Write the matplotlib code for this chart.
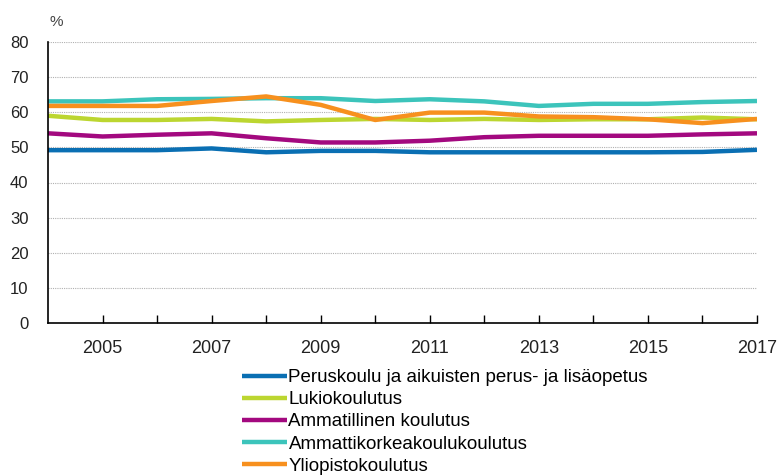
import matplotlib.pyplot as plt

plt.rcParams['font.family'] = ['Liberation Sans', 'DejaVu Sans']

vuodet = list(range(2004, 2018))

peruskoulu = [49.2, 49.2, 49.2, 49.7, 48.6, 49.0, 49.0, 48.6, 48.6, 48.6, 48.6, 48.6, 48.7, 49.3]
lukio = [59.0, 57.8, 57.8, 58.1, 57.4, 57.8, 58.1, 57.8, 58.1, 57.8, 58.0, 58.0, 58.5, 58.0]
ammatillinen = [54.0, 53.1, 53.6, 54.0, 52.6, 51.4, 51.4, 51.9, 52.9, 53.3, 53.3, 53.3, 53.7, 54.0]
amk = [63.1, 63.1, 63.7, 63.8, 64.0, 64.0, 63.2, 63.7, 63.1, 61.8, 62.4, 62.4, 62.9, 63.2]
yliopisto = [61.8, 61.8, 61.8, 63.2, 64.5, 62.1, 57.8, 59.9, 59.9, 58.8, 58.6, 58.0, 56.9, 58.1]

sarjat = [
    ("Peruskoulu ja aikuisten perus- ja lisäopetus", peruskoulu, "#0a6fb3"),
    ("Lukiokoulutus", lukio, "#bcd630"),
    ("Ammatillinen koulutus", ammatillinen, "#a3097f"),
    ("Ammattikorkeakoulukoulutus", amk, "#3cc4bb"),
    ("Yliopistokoulutus", yliopisto, "#f7901e"),
]

fig = plt.figure(figsize=(7.79, 4.75), dpi=100)
ax = fig.add_axes([48 / 779, (475 - 323) / 475, (757 - 48) / 779, (323 - 42) / 475])

for nimi, arvot, vari in sarjat:
    ax.plot(vuodet, arvot, color=vari, lw=3.2, label=nimi,
            solid_joinstyle='round', solid_capstyle='butt')

ax.set_xlim(2004, 2017)
ax.set_ylim(0, 80)
ax.set_yticks(range(0, 81, 10))
ax.set_xticks(range(2005, 2018))
ax.set_xticklabels([str(v) if v % 2 == 1 else "" for v in range(2005, 2018)])

ax.yaxis.grid(True, color='#b0b0b0', linestyle=(0, (1, 1)), lw=0.8)
ax.set_axisbelow(True)

for s in ['top', 'right']:
    ax.spines[s].set_visible(False)
ax.spines['left'].set_linewidth(1.2)
ax.spines['bottom'].set_linewidth(1.2)

ax.tick_params(axis='y', length=0, pad=14, labelsize=12, labelcolor='#222222')
ax.tick_params(axis='x', direction='in', length=6, width=1, pad=12,
               labelsize=13, labelcolor='#222222')

fig.text(50 / 779, 1 - 22 / 475, "%", fontsize=11, color='#444444', va='center')

# legend kept just inside the bottom edge
fig.legend(loc='upper left', bbox_to_anchor=(242 / 779, (475 - 369) / 475),
           frameon=False, fontsize=13.5, handlelength=2.4, handletextpad=0.08,
           labelspacing=0.27, borderpad=0, borderaxespad=0)

fig.savefig("out.png", dpi=100)
